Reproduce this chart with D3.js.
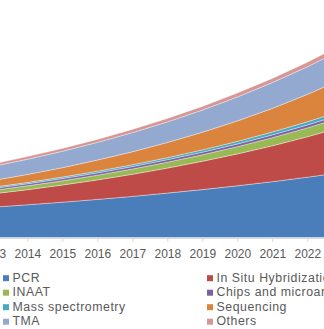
<!DOCTYPE html>
<html lang="en">
	<head>
		<meta charset="utf-8">
		<title>Market by technology</title>
		<script src="https://d3js.org/d3.v7.min.js"></script>
		<style>
			body {
				margin: 0;
				background: #ffffff;
			}
			text {
				font-family: "Liberation Sans", Arial, sans-serif;
				fill: #595959;
			}
			.axis path, .axis line {
				stroke: #d9d9d9;
			}
		</style>
	</head>
	<body>
		<div id="chart"></div>
		<script type="text/javascript">
			// settings for window
			var w = 324;
			var h = 329;

			// data (USD bn, rough)
			var years = [2013,2014,2015,2016,2017,2018,2019,2020,2021,2022,2023];
			var seriesNames = ["PCR","In Situ Hybridization","INAAT","Chips and microarrays","Mass spectrometry","Sequencing","TMA","Others"];
			var pcr = [3.03,3.27,3.53,3.81,4.11,4.44,4.79,5.17,5.58,6.03,6.51];
			var ish = [1.33,1.51,1.72,1.95,2.21,2.50,2.83,3.19,3.59,4.04,4.54];
			var inaat = [0.34,0.39,0.42,0.47,0.53,0.59,0.65,0.72,0.81,0.89,1.00];
			var chips = [0.20,0.20,0.22,0.23,0.24,0.25,0.26,0.27,0.28,0.29,0.29];
			var mass = [0.12,0.13,0.15,0.17,0.18,0.20,0.23,0.26,0.29,0.32,0.36];
			var sequencing = [0.67,0.80,0.94,1.11,1.30,1.52,1.76,2.05,2.36,2.74,3.15];
			var tma = [1.41,1.52,1.64,1.77,1.91,2.06,2.22,2.39,2.58,2.76,2.97];
			var others = [0.24,0.27,0.29,0.30,0.33,0.34,0.37,0.39,0.42,0.45,0.48];
			var colors = ["#4a7ebb","#be4b48","#98b954","#7d60a0","#46aac5","#db843d","#94a9d0","#d69694"];

			var columns = [pcr,ish,inaat,chips,mass,sequencing,tma,others];
			var dataset = years.map(function(y,i) {
				var row = {year: y};
				seriesNames.forEach(function(k,j) { row[k] = columns[j][i]; });
				return row;
			});

			var svg = d3.select("#chart").append("svg").attr("width",w).attr("height",h);

			var xScale = d3.scalePoint().domain(years).range([-7.7,342.3]);
			var yScale = d3.scaleLinear().domain([0,20]).range([237.5,37.5]);

			var stack = d3.stack().keys(seriesNames);
			var layers = stack(dataset);

			var area = d3.area()
				.x(function(d) { return xScale(d.data.year); })
				.y0(function(d) { return yScale(d[0]); })
				.y1(function(d) { return yScale(d[1]); });

			svg.append("g").selectAll("path").data(layers).enter().append("path")
				.attr("d",area)
				.attr("fill",function(d,i) { return colors[i]; })
				.attr("stroke","#ffffff")
				.attr("stroke-opacity",0.6)
				.attr("stroke-width",0.6);

			// axis
			var xAxis = d3.axisBottom(xScale).tickSize(4).tickSizeOuter(0);
			var gx = svg.append("g").attr("class","axis").attr("transform","translate(0,238)").call(xAxis);
			gx.select(".domain").attr("d","M0,0.5H"+w);
			gx.selectAll(".tick line").attr("stroke","#d9d9d9");
			gx.selectAll(".tick text").attr("y",11).attr("dy","0.71em").style("font-size","12px").attr("fill","#595959");

			// legend, two columns
			var legend = svg.append("g");
			var item = legend.selectAll("g").data(seriesNames).enter().append("g")
				.attr("transform",function(d,i) {
					var col = i % 2, row = Math.floor(i/2);
					return "translate("+(col === 0 ? 3 : 207)+","+(281.7+row*14.5)+")";
				});
			item.append("rect").attr("x",0).attr("y",-6.5).attr("width",6).attr("height",6)
				.attr("fill",function(d,i) { return colors[i]; });
			item.append("text").attr("x",9.5).attr("y",0)
				.style("font-size","12.3px").style("letter-spacing","0.55px")
				.text(function(d) { return d; });
		</script>
	</body>
</html>
